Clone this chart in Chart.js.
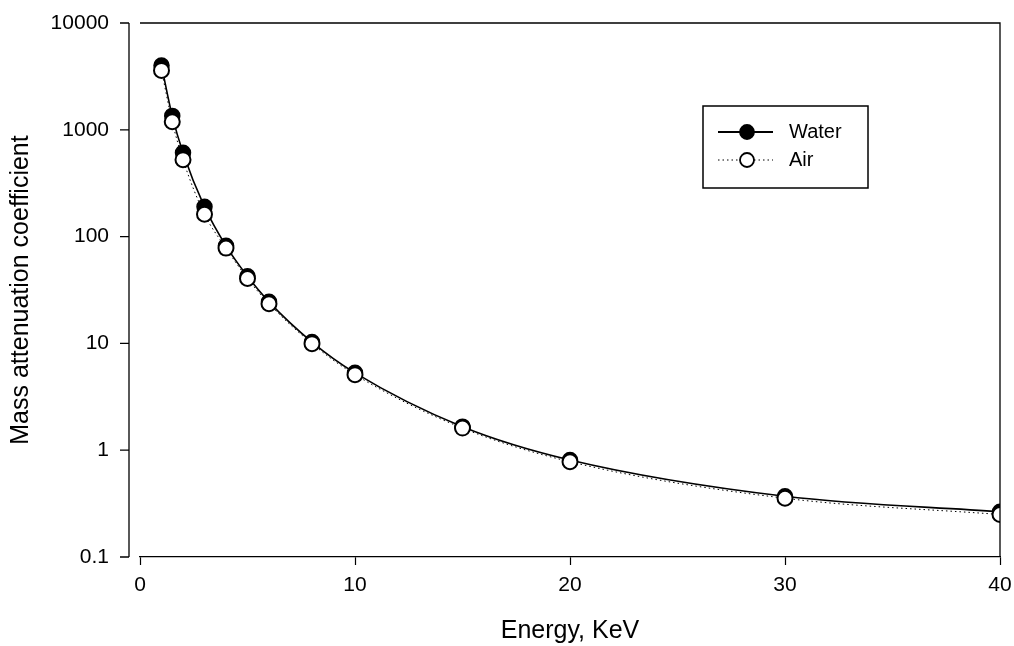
<!DOCTYPE html>
<html>
<head>
<meta charset="utf-8">
<script src="https://cdn.jsdelivr.net/npm/chart.js@4.4.1/dist/chart.umd.min.js"></script>
<style>
  html, body { margin: 0; padding: 0; background: #fff; }
  #wrap { width: 1014px; height: 646px; }
</style>
</head>
<body>
<div id="wrap"><canvas id="attn" width="1014" height="646"></canvas></div>
<script>
// Energy in keV
const energies = [1, 1.5, 2, 3, 4, 5, 6, 8, 10, 15, 20, 30, 40];
// Mass attenuation coefficient
const waterValues = [4000, 1350, 610, 190, 82, 42.5, 24.5, 10.3, 5.3, 1.66, 0.81, 0.37, 0.265];
const airValues = [3600, 1190, 525, 162, 78, 40.5, 23.5, 9.95, 5.1, 1.61, 0.78, 0.355, 0.25];
const yTicks = [0.1, 1, 10, 100, 1000, 10000];
const xTicks = [0, 10, 20, 30, 40];

const font = "'Liberation Sans', Arial, sans-serif";

function toPoints(xs, ys) {
  return xs.map((x, i) => ({ x: x, y: ys[i] }));
}

// offset y spine, top/right frame lines and the legend box
const framePlugin = {
  id: 'frame',
  afterDraw(chart) {
    const ctx = chart.ctx;
    const a = chart.chartArea;
    const yScale = chart.scales.y;
    ctx.save();
    ctx.strokeStyle = '#000';
    ctx.lineWidth = 1.3;

    // top and right of the frame
    ctx.beginPath();
    ctx.moveTo(a.left, a.top);
    ctx.lineTo(a.right, a.top);
    ctx.lineTo(a.right, a.bottom);
    ctx.stroke();

    // y axis sits a little left of x = 0
    const sx = a.left - 11;
    ctx.beginPath();
    ctx.moveTo(sx, a.top);
    ctx.lineTo(sx, a.bottom);
    yTicks.forEach(v => {
      const py = yScale.getPixelForValue(v);
      ctx.moveTo(sx, py);
      ctx.lineTo(sx - 9, py);
    });
    ctx.stroke();

    // legend
    const lx = 703, ly = 106, lw = 165, lh = 82;
    ctx.lineWidth = 1.5;
    ctx.strokeRect(lx, ly, lw, lh);
    const rows = [
      { label: 'Water', dash: [], fill: '#000', y: 132 },
      { label: 'Air', dash: [1.5, 3], fill: '#fff', y: 160 }
    ];
    rows.forEach(r => {
      ctx.setLineDash(r.dash);
      ctx.lineWidth = r.dash.length ? 1 : 1.8;
      ctx.beginPath();
      ctx.moveTo(718, r.y);
      ctx.lineTo(773, r.y);
      ctx.stroke();
      ctx.setLineDash([]);
      ctx.beginPath();
      ctx.arc(747, r.y, 7, 0, Math.PI * 2);
      ctx.fillStyle = r.fill;
      ctx.fill();
      ctx.lineWidth = 1.8;
      ctx.stroke();
      ctx.fillStyle = '#000';
      ctx.font = '20px ' + font;
      ctx.textBaseline = 'middle';
      ctx.fillText(r.label, 789, r.y);
    });
    ctx.restore();
  }
};

const ctx = document.getElementById('attn').getContext('2d');
new Chart(ctx, {
  type: 'line',
  data: {
    datasets: [
      {
        label: 'Water',
        data: toPoints(energies, waterValues),
        borderColor: '#000',
        borderWidth: 1.6,
        backgroundColor: '#000',
        pointBackgroundColor: '#000',
        pointBorderColor: '#000',
        pointBorderWidth: 1.5,
        pointRadius: 7.5,
        cubicInterpolationMode: 'monotone',
        order: 2
      },
      {
        label: 'Air',
        data: toPoints(energies, airValues),
        borderColor: '#000',
        borderWidth: 1,
        borderDash: [1.5, 3],
        pointBackgroundColor: '#fff',
        pointBorderColor: '#000',
        pointBorderWidth: 2,
        pointRadius: 7.5,
        cubicInterpolationMode: 'monotone',
        order: 1
      }
    ]
  },
  options: {
    responsive: false,
    animation: false,
    layout: { padding: { top: 23, right: 14, left: 0, bottom: 0 } },
    plugins: {
      legend: { display: false },
      tooltip: { enabled: false }
    },
    scales: {
      x: {
        type: 'linear',
        min: 0,
        max: 40,
        afterBuildTicks: (axis) => { axis.ticks = xTicks.map(v => ({ value: v })); },
        afterFit: (axis) => {
          axis.height = 89;
          axis.paddingLeft = 0;
          axis.paddingRight = 0;
        },
        grid: { drawOnChartArea: false, color: '#000', tickLength: 8, tickWidth: 1.2 },
        border: { color: '#000', width: 1.3 },
        ticks: { color: '#000', font: { family: font, size: 21 }, padding: 8, maxRotation: 0 },
        title: {
          display: true,
          text: 'Energy, KeV',
          color: '#000',
          font: { family: font, size: 25 },
          padding: { top: 0, bottom: 0 }
        }
      },
      y: {
        type: 'logarithmic',
        min: 0.1,
        max: 10000,
        afterBuildTicks: (axis) => { axis.ticks = yTicks.map(v => ({ value: v })); },
        afterFit: (axis) => {
          axis.width = 140;
          axis.paddingTop = 0;
          axis.paddingBottom = 0;
        },
        grid: { display: false, drawTicks: false },
        border: { display: false },
        ticks: {
          color: '#000',
          font: { family: font, size: 21 },
          padding: 31,
          callback: (v) => String(v)
        },
        title: {
          display: true,
          text: 'Mass attenuation coefficient',
          color: '#000',
          font: { family: font, size: 25 },
          padding: { top: 6, bottom: 0 }
        }
      }
    }
  },
  plugins: [framePlugin]
});
</script>
</body>
</html>
